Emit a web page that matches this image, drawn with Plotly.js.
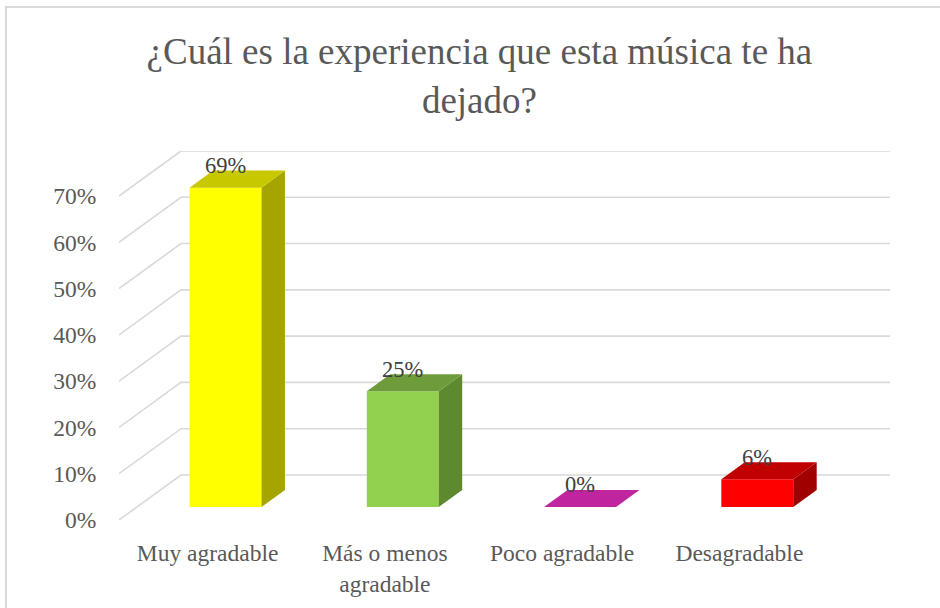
<!DOCTYPE html>
<html>
<head>
<meta charset="utf-8">
<script src="https://cdn.plot.ly/plotly-3.0.1.min.js"></script>
<style>
  html, body { margin: 0; padding: 0; background: #ffffff; }
  #wrap { position: relative; width: 940px; height: 608px; overflow: hidden; }
  #chart { position: absolute; left: 0; top: 0; width: 940px; height: 608px; }
  #frame { position: absolute; left: 5px; top: 6px; width: 1000px; height: 700px;
           border-left: 2px solid #d9d9d9; border-top: 2px solid #d9d9d9; pointer-events: none; }
</style>
</head>
<body>
<div id="wrap">
  <div id="chart"></div>
  <div id="frame"></div>
</div>
<script>
// ---- data ----
const categories = ["Muy agradable", "Más o menos<br>agradable", "Poco agradable", "Desagradable"];
const values = [69, 25, 0, 6];
const valueLabels = ["69%", "25%", "0%", "6%"];
const frontColors = ["#FFFF00", "#92D050", "#C0249E", "#FF0000"];
const topColors   = ["#C8C800", "#6E9C3A", "#C0249E", "#C00000"];
const sideColors  = ["#A5A500", "#5E8A2F", "#9A1C80", "#A00000"];
const tickValues = [0, 10, 20, 30, 40, 50, 60, 70];
const tickLabels = ["0%", "10%", "20%", "30%", "40%", "50%", "60%", "70%"];

// ---- pseudo-3D geometry (style constants) ----
const DX = 0.3497;   // x shift per unit depth (category units)
const DY = 9.726;    // y shift per unit depth (percent units)
const dFront = 0.289, dBack = 0.667;
const halfW = 0.203;
const xMin = -0.5, xMax = categories.length - 0.5 + DX;
const yMax = 70 + DY;
const gridColor = "#D9D9D9";
const SERIF = "Liberation Serif";

const traces = [];
const idx = categories.map((_, i) => i);

// gridlines: back wall + left diagonals
tickValues.forEach(v => {
  traces.push({
    type: "scatter", mode: "lines", hoverinfo: "skip", showlegend: false,
    x: [xMin, xMin + DX, xMax], y: [v, v + DY, v + DY],
    line: { color: gridColor, width: 1.6 }
  });
});

// bars: front, side, top faces
values.forEach((v, i) => {
  const fx = i + dFront * DX, bx = i + dBack * DX;
  const fy = dFront * DY, by = dBack * DY;
  if (v > 0) {
    traces.push({
      type: "scatter", mode: "lines", fill: "toself", hoverinfo: "skip", showlegend: false,
      x: [fx - halfW, fx + halfW, fx + halfW, fx - halfW, fx - halfW],
      y: [fy, fy, fy + v, fy + v, fy],
      fillcolor: frontColors[i], line: { width: 0, color: frontColors[i] }
    });
    traces.push({
      type: "scatter", mode: "lines", fill: "toself", hoverinfo: "skip", showlegend: false,
      x: [fx + halfW, bx + halfW, bx + halfW, fx + halfW, fx + halfW],
      y: [fy, by, by + v, fy + v, fy],
      fillcolor: sideColors[i], line: { width: 0, color: sideColors[i] }
    });
  }
  traces.push({
    type: "scatter", mode: "lines", fill: "toself", hoverinfo: "skip", showlegend: false,
    x: [fx - halfW, fx + halfW, bx + halfW, bx - halfW, fx - halfW],
    y: [fy + v, fy + v, by + v, by + v, fy + v],
    fillcolor: topColors[i], line: { width: 0, color: topColors[i] }
  });
});

const annotations = values.map((v, i) => ({
  x: i + dFront * DX, y: dFront * DY + v, xref: "x", yref: "y",
  text: valueLabels[i], showarrow: false, yanchor: "middle", yshift: 22,
  font: { family: SERIF, size: 22.5, color: "#404040" }
}));

const layout = {
  width: 940, height: 608,
  margin: { l: 119, r: 50, t: 151, b: 88, pad: 0 },
  paper_bgcolor: "#ffffff", plot_bgcolor: "#ffffff",
  showlegend: false,
  font: { family: SERIF, color: "#595959" },
  title: {
    text: "¿Cuál es la experiencia que esta música te ha<br>dejado?",
    x: 0.510, xanchor: "center", y: 0.894, yanchor: "top",
    font: { family: SERIF, size: 37, color: "#595959" }
  },
  xaxis: {
    range: [xMin, xMax], showgrid: false, zeroline: false, showline: false,
    tickmode: "array", tickvals: idx, ticktext: categories,
    ticks: "outside", ticklen: 12, tickcolor: "rgba(0,0,0,0)",
    tickfont: { family: SERIF, size: 23.5, color: "#595959" },
    fixedrange: true
  },
  yaxis: {
    range: [0, yMax], showgrid: false, zeroline: false, showline: false,
    tickmode: "array", tickvals: tickValues, ticktext: tickLabels,
    ticks: "outside", ticklen: 17, tickcolor: "rgba(0,0,0,0)",
    tickfont: { family: SERIF, size: 23.5, color: "#595959" },
    fixedrange: true
  },
  annotations: annotations
};

Plotly.newPlot("chart", traces, layout, { staticPlot: true, displayModeBar: false });
</script>
</body>
</html>
